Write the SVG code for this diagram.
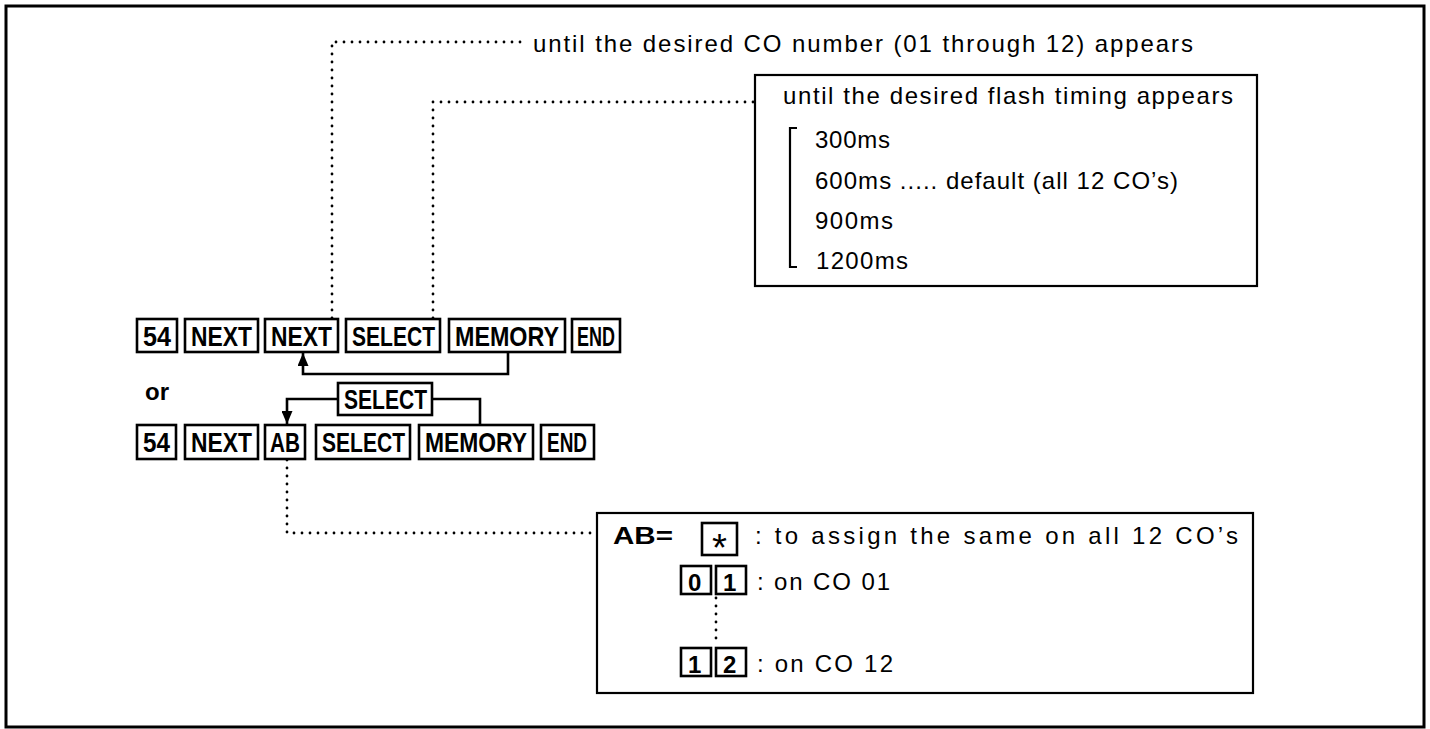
<svg xmlns="http://www.w3.org/2000/svg" width="1430" height="729" viewBox="0 0 1430 729">
<style>
.frame{fill:none;stroke:#000;stroke-width:3}
.box{fill:#fff;stroke:#000;stroke-width:2.2}
.key{fill:#fff;stroke:#000;stroke-width:2.6}
.kt{font-family:"Liberation Sans",Arial,sans-serif;font-weight:bold;font-size:28px;fill:#000}
.bt{font-family:"Liberation Sans",Arial,sans-serif;font-weight:bold;font-size:24px;fill:#000}
.t{font-family:"Liberation Sans",Arial,sans-serif;font-size:24px;fill:#000}
.line{fill:none;stroke:#000;stroke-width:2.6}
.dot{fill:none;stroke:#000;stroke-width:2.8;stroke-linecap:round;stroke-dasharray:0 8}
.thin{fill:none;stroke:#000;stroke-width:2.2}
</style>
<defs>
<marker id="ah" markerUnits="userSpaceOnUse" markerWidth="14" markerHeight="11" refX="13" refY="5.5" orient="auto">
<path d="M0,0 L13,5.5 L0,11 z" fill="#000"/>
</marker>
</defs>
<rect class="frame" x="6" y="6" width="1418" height="721"/>

<g id="connectors">
<path class="dot" d="M332,318 V42 H522"/>
<path class="dot" d="M433,318 V102 H755"/>
<path class="dot" d="M287,460 V533 H597"/>
<path class="line" d="M508,352 V374 H303 V353" marker-end="url(#ah)"/>
<path class="line" d="M338,399 H287 V424" marker-end="url(#ah)"/>
<path class="line" d="M432,399 H480 V425"/>
</g>

<g id="note-co">
<text class="t" x="533" y="52" textLength="660">until the desired CO number (01 through 12) appears</text>
</g>

<g id="note-flash">
<rect class="box" x="755" y="75" width="502" height="211"/>
<text class="t" x="783" y="104" textLength="450">until the desired flash timing appears</text>
<path class="thin" d="M797,128 H790 V267 H797"/>
<text class="t" x="815" y="148" textLength="75">300ms</text>
<text class="t" x="815" y="189" textLength="363">600ms ..... default (all 12 CO’s)</text>
<text class="t" x="815" y="229" textLength="78">900ms</text>
<text class="t" x="816" y="269" textLength="92">1200ms</text>
</g>

<g id="row1">
<g id="r1-54"><rect class="key" x="137" y="319" width="40" height="33"/><text class="kt" x="143" y="346" textLength="28" lengthAdjust="spacingAndGlyphs">54</text></g>
<g id="r1-next1"><rect class="key" x="185" y="319" width="73" height="33"/><text class="kt" x="191" y="346" textLength="61" lengthAdjust="spacingAndGlyphs">NEXT</text></g>
<g id="r1-next2"><rect class="key" x="265" y="319" width="73" height="33"/><text class="kt" x="271" y="346" textLength="61" lengthAdjust="spacingAndGlyphs">NEXT</text></g>
<g id="r1-select"><rect class="key" x="346" y="319" width="94" height="33"/><text class="kt" x="352" y="346" textLength="83" lengthAdjust="spacingAndGlyphs">SELECT</text></g>
<g id="r1-memory"><rect class="key" x="449" y="319" width="116" height="33"/><text class="kt" x="455" y="346" textLength="104" lengthAdjust="spacingAndGlyphs">MEMORY</text></g>
<g id="r1-end"><rect class="key" x="572" y="319" width="48" height="33"/><text class="kt" x="577" y="346" textLength="38" lengthAdjust="spacingAndGlyphs">END</text></g>
</g>

<g id="or-label"><text class="bt" x="145" y="400" font-size="25">or</text></g>

<g id="select-loop"><rect class="key" x="338" y="383" width="94" height="32"/><text class="kt" x="344" y="409" textLength="83" lengthAdjust="spacingAndGlyphs">SELECT</text></g>

<g id="row2">
<g id="r2-54"><rect class="key" x="137" y="425" width="39" height="34"/><text class="kt" x="143" y="452" textLength="27" lengthAdjust="spacingAndGlyphs">54</text></g>
<g id="r2-next"><rect class="key" x="185" y="425" width="73" height="34"/><text class="kt" x="191" y="452" textLength="61" lengthAdjust="spacingAndGlyphs">NEXT</text></g>
<g id="r2-ab"><rect class="key" x="265" y="425" width="40" height="34"/><text class="kt" x="270" y="452" textLength="30" lengthAdjust="spacingAndGlyphs">AB</text></g>
<g id="r2-select"><rect class="key" x="316" y="425" width="94" height="34"/><text class="kt" x="322" y="452" textLength="83" lengthAdjust="spacingAndGlyphs">SELECT</text></g>
<g id="r2-memory"><rect class="key" x="419" y="425" width="114" height="34"/><text class="kt" x="425" y="452" textLength="102" lengthAdjust="spacingAndGlyphs">MEMORY</text></g>
<g id="r2-end"><rect class="key" x="541" y="425" width="53" height="34"/><text class="kt" x="547" y="452" textLength="40" lengthAdjust="spacingAndGlyphs">END</text></g>
</g>

<g id="note-ab">
<rect class="box" x="597" y="513" width="656" height="180"/>
<text class="bt" x="613" y="544" textLength="60" lengthAdjust="spacingAndGlyphs">AB=</text>
<rect class="key" x="702" y="523" width="35" height="32"/>
<text class="t" transform="translate(719.5,561) scale(1.6)" x="0" y="0" text-anchor="middle">*</text>
<text class="t" x="755" y="544" textLength="483">: to assign the same on all 12 CO’s</text>
<rect class="key" x="681" y="566" width="30" height="28"/><text class="bt" x="688" y="591" font-size="25">0</text>
<rect class="key" x="716" y="566" width="30" height="28"/><text class="bt" x="723" y="591" font-size="25">1</text>
<text class="t" x="757" y="590" textLength="133">: on CO 01</text>
<path class="dot" d="M716,598 V646"/>
<rect class="key" x="681" y="648" width="30" height="28"/><text class="bt" x="688" y="673" font-size="25">1</text>
<rect class="key" x="716" y="648" width="30" height="28"/><text class="bt" x="723" y="673" font-size="25">2</text>
<text class="t" x="757" y="672" textLength="136">: on CO 12</text>
</g>
</svg>
